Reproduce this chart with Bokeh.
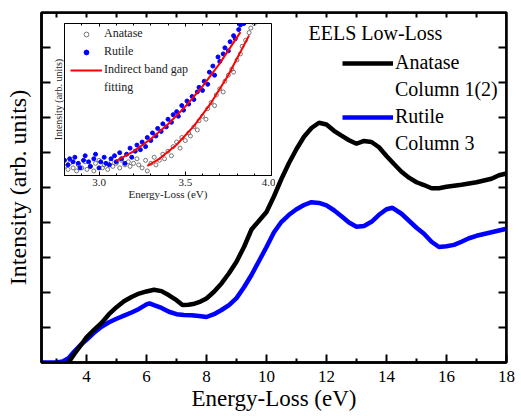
from bokeh.plotting import figure
from bokeh.models import (LinearAxis, FixedTicker, Legend, LegendItem, Label,
                          Range1d, PrintfTickFormatter)
from bokeh.layouts import column
from bokeh.embed import file_html
from bokeh.resources import INLINE

FONT = "Liberation Serif"

# ---------------- main spectra ----------------
anatase_energy = [3.2, 3.4, 3.6, 3.8, 4.0, 4.25, 4.5, 4.75, 5.0, 5.25, 5.5, 5.75, 6.0, 6.25,
                  6.5, 6.75, 7.0, 7.2, 7.4, 7.6, 7.8, 8.0, 8.25, 8.5, 8.75, 9.0, 9.25, 9.5,
                  9.75, 10.0, 10.25, 10.5, 10.75, 11.0, 11.25, 11.5, 11.75, 12.0, 12.25, 12.5,
                  12.75, 13.0, 13.25, 13.5, 13.75, 14.0, 14.25, 14.5, 14.75, 15.0, 15.25, 15.5,
                  15.75, 16.0, 16.5, 17.0, 17.5, 17.75, 18.0]
anatase_intensity = [-0.15, 0.0, 0.25, 0.48, 0.72, 0.93, 1.13, 1.38, 1.58, 1.75, 1.87, 1.97, 2.03,
                     2.08, 2.04, 1.92, 1.78, 1.64, 1.65, 1.68, 1.74, 1.83, 2.02, 2.26, 2.55, 2.88,
                     3.3, 3.8, 4.05, 4.3, 4.75, 5.25, 5.7, 6.1, 6.45, 6.7, 6.85, 6.8, 6.62, 6.48,
                     6.35, 6.25, 6.33, 6.3, 6.15, 5.9, 5.67, 5.45, 5.28, 5.15, 5.07, 4.98, 4.98,
                     5.02, 5.08, 5.15, 5.25, 5.35, 5.4]

rutile_energy = [2.5, 3.0, 3.2, 3.4, 3.6, 3.8, 4.0, 4.25, 4.5, 4.75, 5.0, 5.25, 5.5, 5.75, 6.0,
                 6.1, 6.25, 6.5, 6.75, 7.0, 7.25, 7.5, 7.75, 8.0, 8.25, 8.5, 8.75, 9.0, 9.25,
                 9.5, 9.75, 10.0, 10.25, 10.5, 10.75, 11.0, 11.25, 11.5, 11.75, 12.0, 12.25,
                 12.5, 12.75, 13.0, 13.25, 13.5, 13.75, 14.0, 14.2, 14.5, 14.75, 15.0, 15.25,
                 15.5, 15.75, 16.0, 16.25, 16.5, 16.75, 17.0, 17.5, 18.0]
rutile_intensity = [0.0, 0.0, 0.03, 0.12, 0.32, 0.5, 0.65, 0.85, 1.02, 1.15, 1.25, 1.34, 1.43,
                    1.53, 1.66, 1.69, 1.64, 1.56, 1.45, 1.38, 1.36, 1.35, 1.33, 1.3, 1.38, 1.5,
                    1.64, 1.84, 2.15, 2.5, 2.9, 3.3, 3.72, 4.02, 4.22, 4.38, 4.5, 4.58, 4.56,
                    4.49, 4.35, 4.18, 4.0, 3.88, 3.9, 4.02, 4.22, 4.38, 4.42, 4.25, 4.05, 3.85,
                    3.68, 3.45, 3.3, 3.32, 3.36, 3.45, 3.55, 3.62, 3.72, 3.82]

x_major_ticks = [4, 6, 8, 10, 12, 14, 16, 18]
x_minor_ticks = [3, 5, 7, 9, 11, 13, 15, 17]
x_top_ticks = list(range(3, 19))
y_ticks = [1, 2, 3, 4, 5, 6, 7, 8, 9]

# ---------------- inset data ----------------
inset_rutile_energy = [2.80, 2.82, 2.83, 2.85, 2.86, 2.88, 2.89, 2.91, 2.92, 2.94, 2.95, 2.97, 2.98,
                       3.00, 3.01, 3.03, 3.04, 3.06, 3.07, 3.09, 3.10, 3.12, 3.13, 3.15, 3.16,
                       3.18, 3.19, 3.21, 3.22, 3.24, 3.25, 3.27, 3.28, 3.30, 3.31, 3.33, 3.34,
                       3.36, 3.37, 3.39, 3.40, 3.42, 3.43, 3.45, 3.46, 3.48, 3.49, 3.51, 3.52,
                       3.54, 3.55, 3.57, 3.58, 3.60, 3.61, 3.63, 3.64, 3.66, 3.67, 3.69, 3.70,
                       3.72, 3.73, 3.75, 3.76, 3.78, 3.79, 3.81, 3.82, 3.84]
inset_rutile_int = [0.10, 0.07, 0.11, 0.09, 0.12, 0.08, 0.05, 0.10, 0.13, 0.09, 0.06, 0.11, 0.14,
                    0.05, 0.09, 0.12, 0.08, 0.07, 0.11, 0.13, 0.09, 0.15, 0.11, 0.08, 0.14,
                    0.18, 0.12, 0.16, 0.20, 0.17, 0.22, 0.19, 0.25, 0.23, 0.28, 0.26, 0.31,
                    0.29, 0.34, 0.32, 0.37, 0.35, 0.40, 0.42, 0.39, 0.46, 0.43, 0.49, 0.47,
                    0.52, 0.50, 0.55, 0.58, 0.56, 0.62, 0.60, 0.68, 0.72, 0.66, 0.78, 0.75,
                    0.80, 0.84, 0.82, 0.88, 0.92, 0.90, 0.96, 0.99, 1.00]

inset_anatase_energy = [2.80, 2.82, 2.83, 2.85, 2.87, 2.88, 2.90, 2.92, 2.93, 2.95, 2.97, 2.98,
                        3.00, 3.02, 3.03, 3.05, 3.07, 3.08, 3.10, 3.12, 3.13, 3.15, 3.17, 3.18,
                        3.20, 3.22, 3.23, 3.25, 3.27, 3.28, 3.30, 3.32, 3.33, 3.35, 3.37, 3.38,
                        3.40, 3.42, 3.43, 3.45, 3.47, 3.48, 3.50, 3.52, 3.53, 3.55, 3.57, 3.58,
                        3.60, 3.62, 3.63, 3.65, 3.67, 3.68, 3.70, 3.72, 3.73, 3.75, 3.77, 3.78,
                        3.80, 3.82, 3.83, 3.85, 3.87, 3.88, 3.90]
inset_anatase_int = [0.06, 0.04, 0.08, 0.05, 0.03, 0.07, 0.05, 0.09, 0.04, 0.06, 0.03, 0.08,
                     0.10, 0.05, 0.07, 0.04, 0.09, 0.06, 0.08, 0.05, 0.10, 0.07, 0.09, 0.06,
                     0.08, 0.11, 0.07, 0.05, 0.10, 0.03, 0.08, 0.12, 0.07, 0.10, 0.14, 0.11,
                     0.16, 0.13, 0.19, 0.22, 0.18, 0.25, 0.23, 0.28, 0.26, 0.32, 0.30, 0.36,
                     0.39, 0.37, 0.44, 0.48, 0.46, 0.53, 0.57, 0.55, 0.62, 0.66, 0.70, 0.68,
                     0.76, 0.80, 0.85, 0.89, 0.94, 0.97, 1.00]

fit_rutile_energy = [3.10, 3.20, 3.30, 3.40, 3.50, 3.60, 3.70, 3.82]
fit_rutile_int = [0.097, 0.159, 0.240, 0.337, 0.453, 0.587, 0.738, 0.943]
fit_anatase_energy = [3.28, 3.35, 3.45, 3.55, 3.65, 3.75, 3.87]
fit_anatase_int = [0.064, 0.110, 0.202, 0.325, 0.478, 0.661, 0.922]

inset_major_ticks = [3.0, 3.5, 4.0]
inset_minor_ticks = [2.8, 2.9, 3.1, 3.2, 3.3, 3.4, 3.6, 3.7, 3.8, 3.9]

# ================= main figure =================
p = figure(width=521, height=416, x_range=Range1d(2.5, 18), y_range=Range1d(0, 10),
           output_backend="svg", toolbar_location=None,
           min_border_left=41, min_border_right=10, min_border_top=12, min_border_bottom=54)
p.xgrid.visible = False
p.ygrid.visible = False
p.outline_line_color = "black"
p.outline_line_width = 2.5
p.background_fill_color = "white"
p.border_fill_color = "white"

xa = p.xaxis[0]
xa.ticker = FixedTicker(ticks=x_major_ticks, minor_ticks=x_minor_ticks)
xa.major_tick_in = 8
xa.major_tick_out = 0
xa.minor_tick_in = 4
xa.minor_tick_out = 0
xa.major_tick_line_width = 2
xa.minor_tick_line_width = 2
xa.axis_line_width = 2.5
xa.major_label_text_font = FONT
xa.major_label_text_font_size = "17px"
xa.major_label_text_color = "black"
xa.major_label_standoff = 8
xa.axis_label = "Energy-Loss (eV)"
xa.axis_label_text_font = FONT
xa.axis_label_text_font_size = "23px"
xa.axis_label_text_font_style = "normal"
xa.axis_label_text_color = "black"
xa.axis_label_standoff = 1

ya = p.yaxis[0]
ya.ticker = FixedTicker(ticks=y_ticks, minor_ticks=[])
ya.major_tick_in = 9
ya.major_tick_out = 0
ya.minor_tick_in = 0
ya.minor_tick_out = 0
ya.major_tick_line_width = 2
ya.axis_line_width = 2.5
ya.major_label_text_color = None
ya.major_label_standoff = 0
ya.axis_label = "Intensity (arb. units)"
ya.axis_label_text_font = FONT
ya.axis_label_text_font_size = "24px"
ya.axis_label_text_font_style = "normal"
ya.axis_label_text_color = "black"
ya.axis_label_standoff = 11

top_axis = LinearAxis(ticker=FixedTicker(ticks=x_top_ticks, minor_ticks=[]), fixed_location=10,
                      major_tick_in=5, major_tick_out=0, minor_tick_in=0, minor_tick_out=0,
                      major_tick_line_width=2, axis_line_width=2.5,
                      major_label_text_color=None, major_label_standoff=0)
p.add_layout(top_axis, "above")
right_axis = LinearAxis(ticker=FixedTicker(ticks=y_ticks, minor_ticks=[]), fixed_location=18,
                        major_tick_in=8, major_tick_out=0, minor_tick_in=0, minor_tick_out=0,
                        major_tick_line_width=2, axis_line_width=2.5,
                        major_label_text_color=None, major_label_standoff=0)
p.add_layout(right_axis, "right")

r_rut = p.line(rutile_energy, rutile_intensity, line_color="#0000ff", line_width=4.5)
r_ana = p.line(anatase_energy, anatase_intensity, line_color="black", line_width=4.5)

legend = Legend(items=[LegendItem(label="Anatase", renderers=[r_ana]),
                       LegendItem(label="Column 1(2)", renderers=[]),
                       LegendItem(label="Rutile", renderers=[r_rut]),
                       LegendItem(label="Column 3", renderers=[])],
                location=(301, 207), label_text_font=FONT, label_text_font_size="20px",
                label_text_color="black", glyph_width=51, glyph_height=20, label_height=20,
                label_standoff=2, spacing=4, padding=0, margin=0,
                border_line_alpha=0, background_fill_alpha=0)
p.add_layout(legend)
p.add_layout(Label(x=11.4, y=9.42, text="EELS Low-Loss", text_font=FONT,
                   text_font_size="20px", text_baseline="middle", text_color="black"))

# ================= inset figure =================
inset = figure(frame_width=207, frame_height=152, x_range=Range1d(2.8, 4.0), y_range=Range1d(0, 1),
               output_backend="svg", toolbar_location=None,
               min_border_left=30, min_border_right=15, min_border_top=10, min_border_bottom=40,
               margin=(-403, 0, 0, 23))
inset.xgrid.visible = False
inset.ygrid.visible = False
inset.border_fill_alpha = 0
inset.background_fill_color = "white"
inset.outline_line_color = "black"
inset.outline_line_width = 1

ia = inset.xaxis[0]
ia.ticker = FixedTicker(ticks=inset_major_ticks, minor_ticks=inset_minor_ticks)
ia.formatter = PrintfTickFormatter(format="%.1f")
ia.major_tick_in = 4
ia.major_tick_out = 0
ia.minor_tick_in = 2
ia.minor_tick_out = 0
ia.axis_line_width = 1
ia.major_label_text_font = FONT
ia.major_label_text_font_size = "11px"
ia.major_label_text_color = "#222222"
ia.major_label_standoff = 3
ia.axis_label = "Energy-Loss (eV)"
ia.axis_label_text_font = FONT
ia.axis_label_text_font_size = "11px"
ia.axis_label_text_font_style = "normal"
ia.axis_label_text_color = "#222222"
ia.axis_label_standoff = -1

iy = inset.yaxis[0]
iy.ticker = FixedTicker(ticks=[], minor_ticks=[])
iy.major_tick_in = 0
iy.major_tick_out = 0
iy.minor_tick_in = 0
iy.minor_tick_out = 0
iy.axis_line_width = 1
iy.major_label_text_color = None
iy.major_label_standoff = 0
iy.axis_label = "Intensity (arb. units)"
iy.axis_label_text_font = FONT
iy.axis_label_text_font_size = "10px"
iy.axis_label_text_font_style = "normal"
iy.axis_label_text_color = "#222222"
iy.axis_label_standoff = 1

inset_top = LinearAxis(ticker=FixedTicker(ticks=inset_major_ticks, minor_ticks=inset_minor_ticks),
                       fixed_location=1,
                       major_tick_in=3, major_tick_out=0, minor_tick_in=2, minor_tick_out=0,
                       axis_line_width=1, major_label_text_color=None, major_label_standoff=0)
inset.add_layout(inset_top, "above")

r_ia = inset.scatter(inset_anatase_energy, inset_anatase_int, marker="circle", size=4,
                     line_color="#555555", line_width=0.8, fill_color=None)
r_ir = inset.scatter(inset_rutile_energy, inset_rutile_int, marker="circle", size=4,
                     line_color="#0000ff", fill_color="#0000ff")
r_fit1 = inset.line(fit_rutile_energy, fit_rutile_int, line_color="#ff0000", line_width=2)
inset.line(fit_anatase_energy, fit_anatase_int, line_color="#ff0000", line_width=2)

ileg = Legend(items=[LegendItem(label="Anatase", renderers=[r_ia]),
                     LegendItem(label="Rutile", renderers=[r_ir]),
                     LegendItem(label="Indirect band gap", renderers=[r_fit1]),
                     LegendItem(label="fitting", renderers=[])],
              location=(6, 80), label_text_font=FONT, label_text_font_size="12px",
              label_text_color="#222222", glyph_width=32, glyph_height=12, label_height=12,
              label_standoff=2, spacing=3, padding=0, margin=0,
              border_line_alpha=0, background_fill_alpha=0)
inset.add_layout(ileg)

layout = column(p, inset)
open("out.html", "w").write(file_html(layout, INLINE))
